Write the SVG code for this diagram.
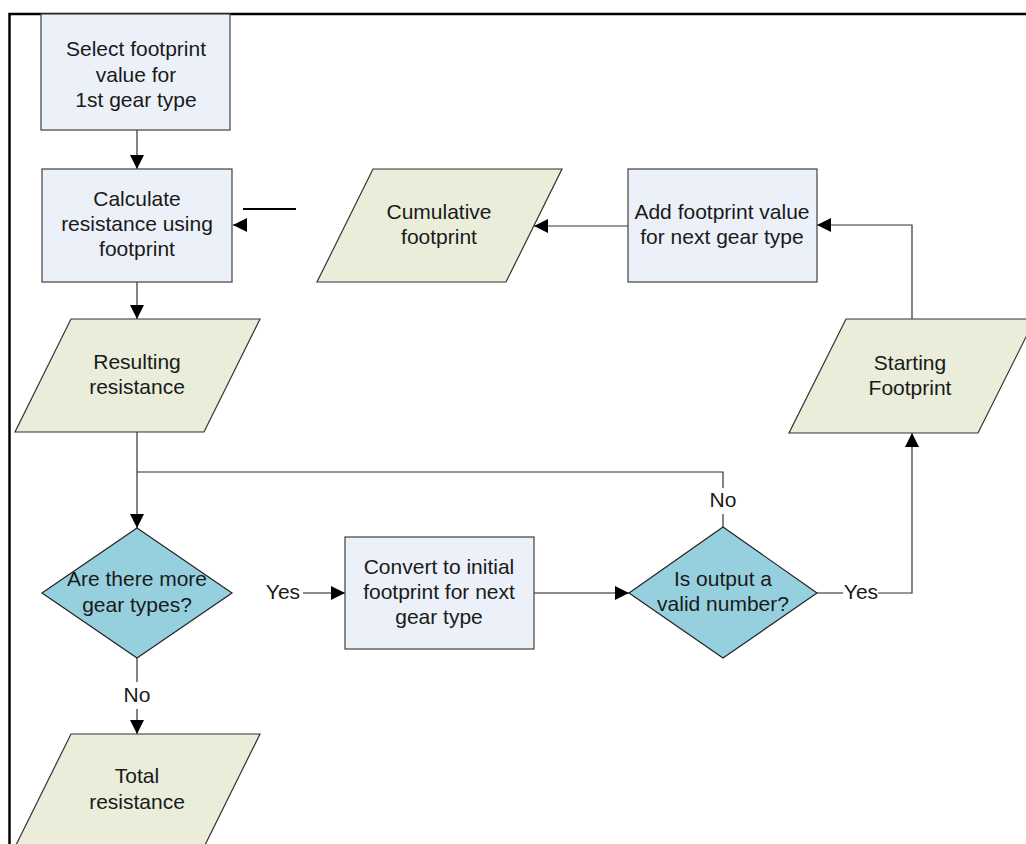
<svg xmlns="http://www.w3.org/2000/svg" width="1026" height="844" viewBox="0 0 1026 844">
<style>
.box{fill:#ecf0f8;stroke:#404040;stroke-width:1.2}
.io{fill:#e9edda;stroke:#333;stroke-width:1.2}
.dec{fill:#96d0df;stroke:#222;stroke-width:1.2}
.t{font-family:"Liberation Sans",Arial,sans-serif;font-size:21px;fill:#1a1a1a;text-anchor:middle}
.c{fill:none;stroke:#333;stroke-width:1.2}
.g{fill:none;stroke:#666;stroke-width:1.5}
</style>
<defs>
<marker id="ah" markerUnits="userSpaceOnUse" markerWidth="14" markerHeight="14" refX="14" refY="7" orient="auto" viewBox="0 0 14 14">
<path d="M0,0 L14,7 L0,14 z" fill="#000"/>
</marker>
</defs>
<rect x="0" y="0" width="1026" height="844" fill="#fff"/>
<g id="frame">
<path d="M9.5,844 V14 H1026" fill="none" stroke="#000" stroke-width="2.5"/>
</g>
<g id="connectors">
<path class="c" d="M137,130 V169" marker-end="url(#ah)"/>
<path class="c" d="M137,282 V319" marker-end="url(#ah)"/>
<path class="c" d="M137,432 V528" marker-end="url(#ah)"/>
<path class="c" d="M137,472 H723 V488"/>
<path class="c" d="M723,514 V527"/>
<path class="c" d="M137,658 V682"/>
<path class="c" d="M137,709 V734" marker-end="url(#ah)"/>
<path class="g" d="M303,593 H345" marker-end="url(#ah)"/>
<path class="g" d="M534,593 H629" marker-end="url(#ah)"/>
<path class="g" d="M817,593 H843"/>
<path class="c" d="M878,593 H912 V433" marker-end="url(#ah)"/>
<path class="c" d="M912,319 V225 H817" marker-end="url(#ah)"/>
<path class="c" d="M628,226 H534" marker-end="url(#ah)"/>
<path class="c" d="M247,225 H233" marker-end="url(#ah)"/>
<path d="M243,209 H296" stroke="#000" stroke-width="2" fill="none"/>
<text class="t" x="723" y="507">No</text>
<text class="t" x="137" y="702">No</text>
<text class="t" x="283" y="599">Yes</text>
<text class="t" x="861" y="599">Yes</text>
</g>
<g id="select">
<rect class="box" x="41" y="14" width="189" height="116"/>
<text class="t" x="136" y="56">Select footprint</text>
<text class="t" x="136" y="82">value for</text>
<text class="t" x="136" y="107">1st gear type</text>
</g>
<g id="calculate">
<rect class="box" x="42" y="169" width="190" height="113"/>
<text class="t" x="137" y="206">Calculate</text>
<text class="t" x="137" y="231">resistance using</text>
<text class="t" x="137" y="256">footprint</text>
</g>
<g id="cumulative">
<polygon class="io" points="373,169 562,169 506,282 317,282"/>
<text class="t" x="439" y="219">Cumulative</text>
<text class="t" x="439" y="244">footprint</text>
</g>
<g id="add">
<rect class="box" x="628" y="169" width="189" height="113"/>
<text class="t" x="722" y="219">Add footprint value</text>
<text class="t" x="722" y="244">for next gear type</text>
</g>
<g id="resulting">
<polygon class="io" points="71,319 260,319 204,432 15,432"/>
<text class="t" x="137" y="369">Resulting</text>
<text class="t" x="137" y="394">resistance</text>
</g>
<g id="starting">
<polygon class="io" points="846,319 1035,319 978,433 789,433"/>
<text class="t" x="910" y="370">Starting</text>
<text class="t" x="910" y="395">Footprint</text>
</g>
<g id="more">
<polygon class="dec" points="137,528 232,593 137,658 42,593"/>
<text class="t" x="137" y="586">Are there more</text>
<text class="t" x="137" y="612">gear types?</text>
</g>
<g id="convert">
<rect class="box" x="345" y="537" width="189" height="112"/>
<text class="t" x="439" y="574">Convert to initial</text>
<text class="t" x="439" y="599">footprint for next</text>
<text class="t" x="439" y="624">gear type</text>
</g>
<g id="valid">
<polygon class="dec" points="723,527 817,593 723,658 629,593"/>
<text class="t" x="723" y="586">Is output a</text>
<text class="t" x="723" y="611">valid number?</text>
</g>
<g id="total">
<polygon class="io" points="71,734 260,734 204,847 15,847"/>
<text class="t" x="137" y="783">Total</text>
<text class="t" x="137" y="809">resistance</text>
</g>
</svg>
